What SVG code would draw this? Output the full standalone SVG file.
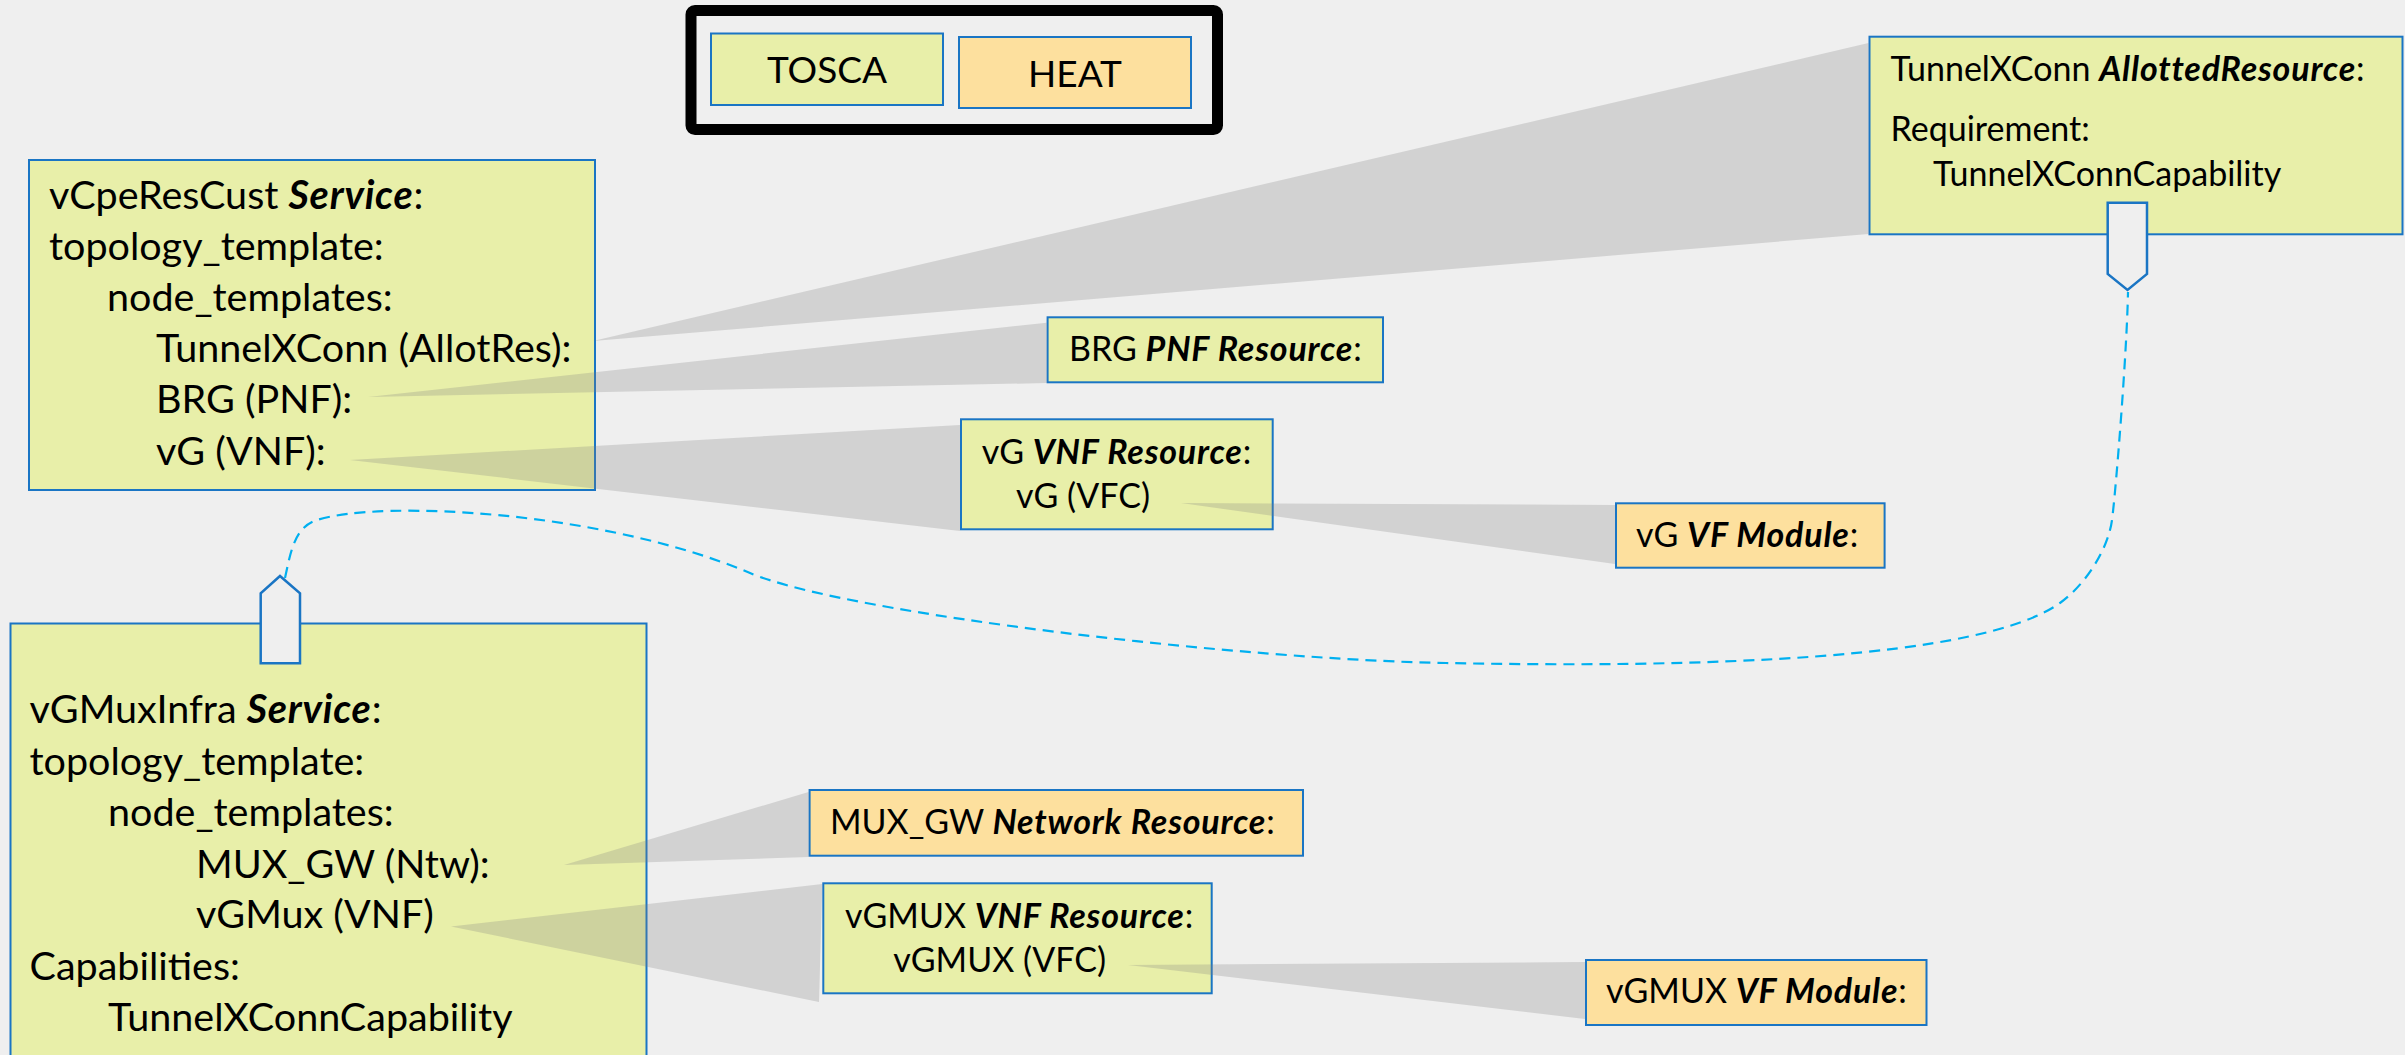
<svg xmlns="http://www.w3.org/2000/svg" width="2405" height="1055" viewBox="0 0 2405 1055">
<style>
.tosca{fill:#e8efa9;stroke:#1a75c4;stroke-width:2}
.heat{fill:#fde09e;stroke:#1a75c4;stroke-width:2}
.port{fill:#efefef;stroke:#1a75c4;stroke-width:2.5;stroke-linejoin:miter}
text{font-family:Lato,"Open Sans",sans-serif;fill:#000}
.L{font-size:39.5px}
.S{font-size:34px}
.G{font-size:37px}
.bi{font-weight:700;font-style:italic;letter-spacing:0.8px}
.wedge{fill:#808080;fill-opacity:0.26}
.dash{fill:none;stroke:#00b0f0;stroke-width:2.2;stroke-dasharray:11 7}
</style>
<rect x="0" y="0" width="2405" height="1055" fill="#efefef"/>

<g id="legend">
  <rect x="691" y="10.5" width="526.5" height="119" rx="4" fill="none" stroke="#000" stroke-width="11"/>
  <g id="legend-tosca">
    <rect class="tosca" x="711" y="33.5" width="232" height="71.5"/>
    <text class="G" x="827" y="83" text-anchor="middle">TOSCA</text>
  </g>
  <g id="legend-heat">
    <rect class="heat" x="959" y="37" width="232" height="71"/>
    <text class="G" x="1075" y="87" text-anchor="middle">HEAT</text>
  </g>
</g>

<g id="vCpeResCust">
  <rect class="tosca" x="29" y="160" width="566" height="330"/>
  <text class="L" x="49" y="209">vCpeResCust <tspan class="bi">Service</tspan>:</text>
  <text class="L" x="49" y="260">topology_template:</text>
  <text class="L" x="107" y="311">node_templates:</text>
  <text class="L" x="156" y="362">TunnelXConn (AllotRes):</text>
  <text class="L" x="156" y="413">BRG (PNF):</text>
  <text class="L" x="156" y="465">vG (VNF):</text>
</g>

<g id="vGMuxInfra">
  <rect class="tosca" x="10.5" y="623.5" width="636" height="450"/>
  <text class="L" x="29.5" y="723">vGMuxInfra <tspan class="bi">Service</tspan>:</text>
  <text class="L" x="29.5" y="775">topology_template:</text>
  <text class="L" x="108" y="826">node_templates:</text>
  <text class="L" x="196" y="878">MUX_GW (Ntw):</text>
  <text class="L" x="196" y="928">vGMux (VNF)</text>
  <text class="L" x="29.5" y="980">Capabilities:</text>
  <text class="L" x="108" y="1031">TunnelXConnCapability</text>
  <polygon class="port" points="260.7,663.3 260.7,593.3 280,576 300,593.3 300,663.3"/>
</g>

<g id="TunnelXConn">
  <rect class="tosca" x="1869.5" y="36.7" width="533" height="197.6"/>
  <text class="S" x="1890.5" y="81">TunnelXConn <tspan class="bi">AllottedResource</tspan>:</text>
  <text class="S" x="1890.5" y="141">Requirement:</text>
  <text class="S" x="1933" y="186">TunnelXConnCapability</text>
  <polygon class="port" points="2107.7,202.7 2147,202.7 2147,274 2127.5,290 2107.7,274"/>
</g>

<g id="BRG">
  <rect class="tosca" x="1047.6" y="317.3" width="335.4" height="65"/>
  <text class="S" x="1069" y="361">BRG <tspan class="bi">PNF Resource</tspan>:</text>
</g>

<g id="vG-VNF">
  <rect class="tosca" x="961" y="419.3" width="311.7" height="110"/>
  <text class="S" x="981.7" y="464">vG <tspan class="bi">VNF Resource</tspan>:</text>
  <text class="S" x="1016" y="508">vG (VFC)</text>
</g>

<g id="vG-VFModule">
  <rect class="heat" x="1616" y="503.3" width="268.6" height="64.4"/>
  <text class="S" x="1636" y="547">vG <tspan class="bi">VF Module</tspan>:</text>
</g>

<g id="MUX_GW">
  <rect class="heat" x="809.6" y="790" width="493.4" height="65.7"/>
  <text class="S" x="830" y="834">MUX_GW <tspan class="bi">Network Resource</tspan>:</text>
</g>

<g id="vGMUX-VNF">
  <rect class="tosca" x="823.3" y="883.3" width="388.4" height="110"/>
  <text class="S" x="845" y="928">vGMUX <tspan class="bi">VNF Resource</tspan>:</text>
  <text class="S" x="893.3" y="972">vGMUX (VFC)</text>
</g>

<g id="vGMUX-VFModule">
  <rect class="heat" x="1586" y="960" width="340.5" height="65"/>
  <text class="S" x="1606" y="1003">vGMUX <tspan class="bi">VF Module</tspan>:</text>
</g>

<g id="connectors">
  <polygon class="wedge" points="593,341 1868.5,43 1868.5,234"/>
  <polygon class="wedge" points="368,397 1046.6,322.7 1046.6,383"/>
  <polygon class="wedge" points="350,460 960,425 960,531"/>
  <polygon class="wedge" points="1181,503 1615,505 1615,564"/>
  <polygon class="wedge" points="564,865 808.6,792 808.6,857"/>
  <polygon class="wedge" points="451,926.5 822.3,884 819,1002"/>
  <polygon class="wedge" points="1128,965 1585,962 1585,1019"/>
  <path class="dash" d="M285,578 C291,550 295,527 317,520 C380,500 600,510 750,573 C850,615 1250,660 1446,663 C1700,668 1980,660 2060,603 C2085,585 2108,550 2112,520 C2116,490 2127,350 2128,292"/>
</g>
</svg>
